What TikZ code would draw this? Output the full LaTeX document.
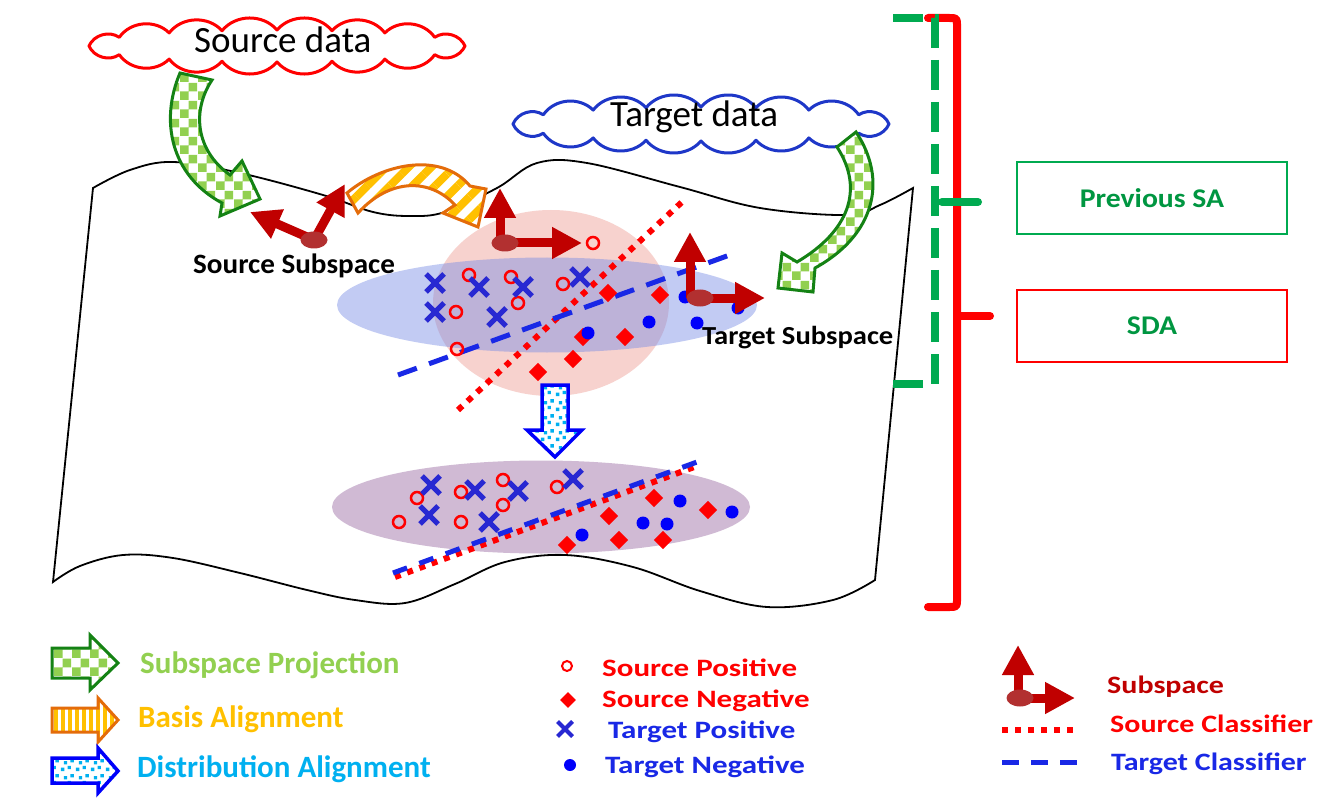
\documentclass[tikz,border=0pt]{standalone}
\usepackage{fontspec}
\setmainfont{Carlito}
\usepackage{graphicx}
\usetikzlibrary{shapes.geometric,shapes.misc,patterns,patterns.meta,arrows.meta}

\pgfdeclarepatternformonly{bigchecker}{\pgfqpoint{0pt}{0pt}}{\pgfqpoint{18pt}{18pt}}{\pgfqpoint{18pt}{18pt}}{%
 \pgfpathrectangle{\pgfqpoint{0pt}{0pt}}{\pgfqpoint{9pt}{9pt}}%
 \pgfpathrectangle{\pgfqpoint{9pt}{9pt}}{\pgfqpoint{9pt}{9pt}}%
 \pgfusepath{fill}}
\pgfdeclarepatternformonly{cyandots}{\pgfqpoint{0pt}{0pt}}{\pgfqpoint{15pt}{15pt}}{\pgfqpoint{15pt}{15pt}}{%
 \pgfpathrectangle{\pgfqpoint{1pt}{1pt}}{\pgfqpoint{3.5pt}{3.5pt}}%
 \pgfpathrectangle{\pgfqpoint{8pt}{3pt}}{\pgfqpoint{3.5pt}{3.5pt}}%
 \pgfpathrectangle{\pgfqpoint{4pt}{8pt}}{\pgfqpoint{3.5pt}{3.5pt}}%
 \pgfpathrectangle{\pgfqpoint{11pt}{10pt}}{\pgfqpoint{3.5pt}{3.5pt}}%
 \pgfusepath{fill}}

\definecolor{dred}{RGB}{192,0,0}
\definecolor{lgreen}{RGB}{146,208,80}
\definecolor{dgreen}{RGB}{20,130,20}
\definecolor{gold}{RGB}{255,192,0}
\definecolor{orng}{RGB}{228,108,10}
\definecolor{cyanc}{RGB}{0,176,240}
\definecolor{bblue}{RGB}{0,0,250}
\definecolor{xblue}{RGB}{40,40,210}
\definecolor{tblue}{RGB}{25,40,230}
\definecolor{sgreen}{RGB}{0,170,80}
\definecolor{sagreen}{RGB}{0,150,65}
\definecolor{pinkf}{RGB}{245,195,190}
\definecolor{bluef}{RGB}{120,140,230}
\definecolor{mauve}{RGB}{208,186,212}
\definecolor{dotred}{RGB}{178,48,48}
\definecolor{cloudblue}{RGB}{30,55,200}

\newcommand{\hsx}[2]{\scalebox{#1}[1]{#2}}

\begin{document}
\begin{tikzpicture}[x=1pt,y=-1pt,
  spos/.style={circle, draw=red, line width=2.5pt, minimum size=12pt, inner sep=0pt},
  sneg/.style={rectangle, rotate=45, fill=red, minimum size=13pt, inner sep=0pt},
  tpos/.style={cross out, draw=xblue, line width=5pt, minimum size=13pt, inner sep=0pt},
  tneg/.style={circle, fill=bblue, minimum size=13pt, inner sep=0pt},
  srccls/.style={red, line width=6pt, dash pattern=on 6pt off 7pt},
  tgtcls/.style={tblue, line width=5pt, dash pattern=on 20pt off 13pt},
  subarr/.style={dred, line width=9pt, -{Triangle[length=30pt,width=30pt]}},
  subdot/.style={ellipse, fill=dotred, minimum width=27pt, minimum height=17pt, inner sep=0pt},
  greenarr/.style={draw=dgreen, line width=3pt, preaction={fill=white}, pattern=bigchecker, pattern color=lgreen},
  orangearr/.style={draw=orng, line width=3pt, preaction={fill=white}, pattern={Lines[angle=45,distance=16pt,line width=8pt]}, pattern color=gold},
  distarr/.style={draw=bblue, line width=3.5pt, preaction={fill=white}, pattern=cyandots, pattern color=cyanc},
  txt/.style={inner sep=0pt, anchor=base west},
  bigf/.style={font=\fontsize{37}{40}\selectfont},
  lgf/.style={font=\bfseries\fontsize{31}{33}\selectfont},
  mgf/.style={font=\bfseries\fontsize{25}{27}\selectfont},
  cloudline/.style={line width=3pt, fill=white, line join=round}
]
\useasboundingbox (0,0) rectangle (1338,802);
\fill[white] (0,0) rectangle (1338,802);

% paper sheet
\draw[line width=1.8pt, fill=white]
  plot[smooth, tension=0.6] coordinates {(93,188) (130,170) (173,162) (240,173) (323,195) (373,212) (410,216) (445,212) (497,188) (537,163) (587,163) (680,187) (760,208) (847,215) (880,205) (913,188)}
  -- plot[smooth, tension=0.6] coordinates {(875,580) (833,600) (767,607) (700,591) (633,567) (565,555) (505,562) (455,584) (405,603) (355,600) (307,590) (240,573) (173,558) (123,555) (80,566) (53,582)}
  -- cycle;

% distributions
\node[ellipse, minimum width=236pt, minimum height=186pt, fill=pinkf, fill opacity=0.75, inner sep=0pt] (srcdist) at (551,303) {};
\node[ellipse, minimum width=420pt, minimum height=95pt, fill=bluef, fill opacity=0.45, inner sep=0pt] (tgtdist) at (547,305) {};
\node[ellipse, minimum width=418pt, minimum height=93pt, fill=mauve, inner sep=0pt] (newdist) at (541,507) {};

% classifiers (top)
\coordinate (sc1) at (458,410); \coordinate (sc2) at (682,202);
\coordinate (tc1) at (398,375); \coordinate (tc2) at (738,252);
\draw[srccls] (sc1) -- (sc2);
\draw[tgtcls] (tc1) -- (tc2);

% classifiers (bottom)
\coordinate (bsc1) at (395,577); \coordinate (bsc2) at (697,466);
\coordinate (btc1) at (393,573); \coordinate (btc2) at (697,462);
\draw[srccls] (bsc1) -- (bsc2);
\draw[tgtcls, dash pattern=on 15pt off 13pt] (btc1) -- (btc2);

% top points
\foreach \x/\y [count=\i] in {608/293, 660/295, 583/337, 625/337, 573/359, 538/372}
  \node[sneg] (tsn\i) at (\x,\y) {};
\foreach \x/\y [count=\i] in {593/243, 469/275, 511/277, 563/284, 518/303, 456/312, 457/349}
  \node[spos] (tsp\i) at (\x,\y) {};
\foreach \x/\y [count=\i] in {435/283, 479/287, 523/287, 580/277, 435/312, 497/317}
  \node[tpos] (ttp\i) at (\x,\y) {};
\foreach \x/\y [count=\i] in {685/297, 738/308, 697/323, 649/322, 588/333}
  \node[tneg] (ttn\i) at (\x,\y) {};

% bottom points
\foreach \x/\y [count=\i] in {654/498, 609/516, 619/540, 663/540, 708/510, 567/545}
  \node[sneg] (bsn\i) at (\x,\y) {};
\foreach \x/\y [count=\i] in {417/498, 399/522, 461/492, 461/522, 503/480, 503/505, 557/487}
  \node[spos] (bsp\i) at (\x,\y) {};
\foreach \x/\y [count=\i] in {431/485, 429/515, 475/490, 489/522, 518/491, 573/479}
  \node[tpos] (btp\i) at (\x,\y) {};
\foreach \x/\y [count=\i] in {680/501, 643/523, 667/524, 732/512, 582/535}
  \node[tneg] (btn\i) at (\x,\y) {};

% clouds
\draw[cloudline, draw=red] ({277+188},46)
  \foreach \t in {33,55,73,90,107,125,147,180,213,235,253,270,287,305,327,360}
  { to[bend left=50] ({277+188*cos(\t)},{46+16*sin(\t)}) } -- cycle;
\node[txt, bigf] (srctext) at (194,53) {Source data};
\draw[cloudline, draw=cloudblue] ({701+188},124)
  \foreach \t in {33,55,73,90,107,125,147,180,213,235,253,270,287,305,327,360}
  { to[bend left=50] ({701+188*cos(\t)},{124+17*sin(\t)}) } -- cycle;
\node[txt, bigf] (tgttext) at (610,127) {Target data};

% curved arrows
\draw[greenarr] (180,73) .. controls (160,120) and (170,175) .. (222,203) -- (220,216) -- (260,199) -- (242,161) -- (230,175) .. controls (195,150) and (192,110) .. (212,80) -- cycle;
\draw[greenarr] (837,147) -- (856,132) .. controls (888,180) and (875,235) .. (815,268) -- (813,292) -- (778,288) -- (782,253) -- (797,262) .. controls (848,232) and (865,190) .. (837,147) -- cycle;
\draw[orangearr] (347,193) .. controls (380,165) and (440,150) .. (470,186) -- (486,189) -- (478,227) -- (443,213) -- (455,205) .. controls (430,178) and (390,178) .. (358,213) -- cycle;

% distribution alignment arrow
\draw[distarr] (542,385) -- (568,385) -- (568,430) -- (582,430) -- (555,457) -- (527,430) -- (542,430) -- cycle;

% subspaces
\coordinate (s0) at (314,240); \coordinate (su) at (250,212); \coordinate (sr) at (345,184);
\draw[subarr] (s0) -- (su);
\draw[subarr] (s0) -- (sr);
\node[subdot] (sdot) at (s0) {};

\coordinate (m0) at (505,243); \coordinate (mu) at (500,188); \coordinate (mr) at (582,243);
\draw[subarr] (m0 -| mu) -- (mu);
\draw[subarr] (m0) -- (mr);
\node[subdot] (mdot) at (m0) {};

\coordinate (t0) at (700,298); \coordinate (tu) at (690,232); \coordinate (tr) at (765,298);
\draw[subarr] (t0 -| tu) -- (tu);
\draw[subarr] (t0) -- (tr);
\node[subdot] (tdot) at (t0) {};

% labels
\node[txt, font=\bfseries\fontsize{28}{30}\selectfont] (lblsrc) at (193,274) {\hsx{1.04}{Source Subspace}};
\node[txt, font=\bfseries\fontsize{26}{28}\selectfont] (lbltgt) at (702,344) {\hsx{1.1}{Target Subspace}};

% brackets
\draw[red, line width=8pt, line cap=round, line join=round] (928,18) -- (949,18) .. controls (957,18) .. (957,26) -- (957,599) .. controls (957,607) .. (949,607) -- (928,607);
\coordinate (rnub) at (957,316); \coordinate (rnubend) at (990,316);
\draw[red, line width=8pt, line cap=round] (rnub) -- (rnubend);
\draw[sgreen, line width=8pt, dash pattern=on 30pt off 12pt] (893,18) -- (935,18) -- (935,384) -- (893,384);
\coordinate (gnub) at (942,202); \coordinate (gnubend) at (978,202);
\draw[sgreen, line width=8pt, line cap=round] (gnub) -- (gnubend);

% boxes
\node[draw=sgreen, line width=2pt, minimum width=270pt, minimum height=72pt, text=sagreen, font=\bfseries\fontsize{27}{29}\selectfont] (prevsa) at (1152,198) {\hsx{1.1}{Previous SA}};
\node[draw=red, line width=2pt, minimum width=270pt, minimum height=72pt, text=sagreen, font=\bfseries\fontsize{27}{29}\selectfont] (sda) at (1152,326) {\hsx{1.1}{SDA}};

% legend left
\draw[greenarr] (52,648) -- (90,648) -- (90,635) -- (118,663) -- (90,690) -- (90,678) -- (52,678) -- cycle;
\draw[orangearr, pattern={Lines[angle=90,distance=7pt,line width=3.5pt]}] (52,708) -- (98,708) -- (98,698) -- (118,720) -- (98,742) -- (98,732) -- (52,732) -- cycle;
\draw[distarr] (52,758) -- (98,758) -- (98,748) -- (118,771) -- (98,793) -- (98,783) -- (52,783) -- cycle;
\node[txt, lgf, text=lgreen] (lt1) at (140,673) {Subspace Projection};
\node[txt, lgf, text=gold] (lt2) at (138,727) {Basis Alignment};
\node[txt, lgf, text=cyanc] (lt3) at (137,777) {Distribution Alignment};

% legend middle
\node[spos, line width=2pt, minimum size=10pt] (lsp) at (567,666) {};
\node[sneg, minimum size=11pt] (lsn) at (568,700) {};
\node[tpos, minimum size=11pt, line width=4pt] (ltp) at (565,729) {};
\node[tneg, minimum size=12pt] (ltn) at (570,765) {};
\node[txt, mgf, text=red] (lm1) at (602,676) {\hsx{1.24}{Source Positive}};
\node[txt, mgf, text=red] (lm2) at (602,707) {\hsx{1.24}{Source Negative}};
\node[txt, mgf, text=tblue] (lm3) at (608,738) {\hsx{1.24}{Target Positive}};
\node[txt, mgf, text=tblue] (lm4) at (605,773) {\hsx{1.24}{Target Negative}};

% legend right
\coordinate (l0) at (1020,698); \coordinate (lu) at (1018,645); \coordinate (lr) at (1075,698);
\draw[subarr] (l0 -| lu) -- (lu);
\draw[subarr] (l0) -- (lr);
\node[subdot] (ldot) at (l0) {};
\coordinate (ls1) at (1002,730); \coordinate (ls2) at (1077,730);
\draw[srccls] (ls1) -- (ls2);
\coordinate (lc1) at (1002,762); \coordinate (lc2) at (1077,762);
\draw[tgtcls, dash pattern=on 17pt off 12pt] (lc1) -- (lc2);
\node[txt, mgf, text=dred] (lr1) at (1107,693) {\hsx{1.2}{Subspace}};
\node[txt, mgf, text=red] (lr2) at (1110,732) {\hsx{1.2}{Source Classifier}};
\node[txt, mgf, text=tblue] (lr3) at (1111,770) {\hsx{1.2}{Target Classifier}};
\end{tikzpicture}
\end{document}
